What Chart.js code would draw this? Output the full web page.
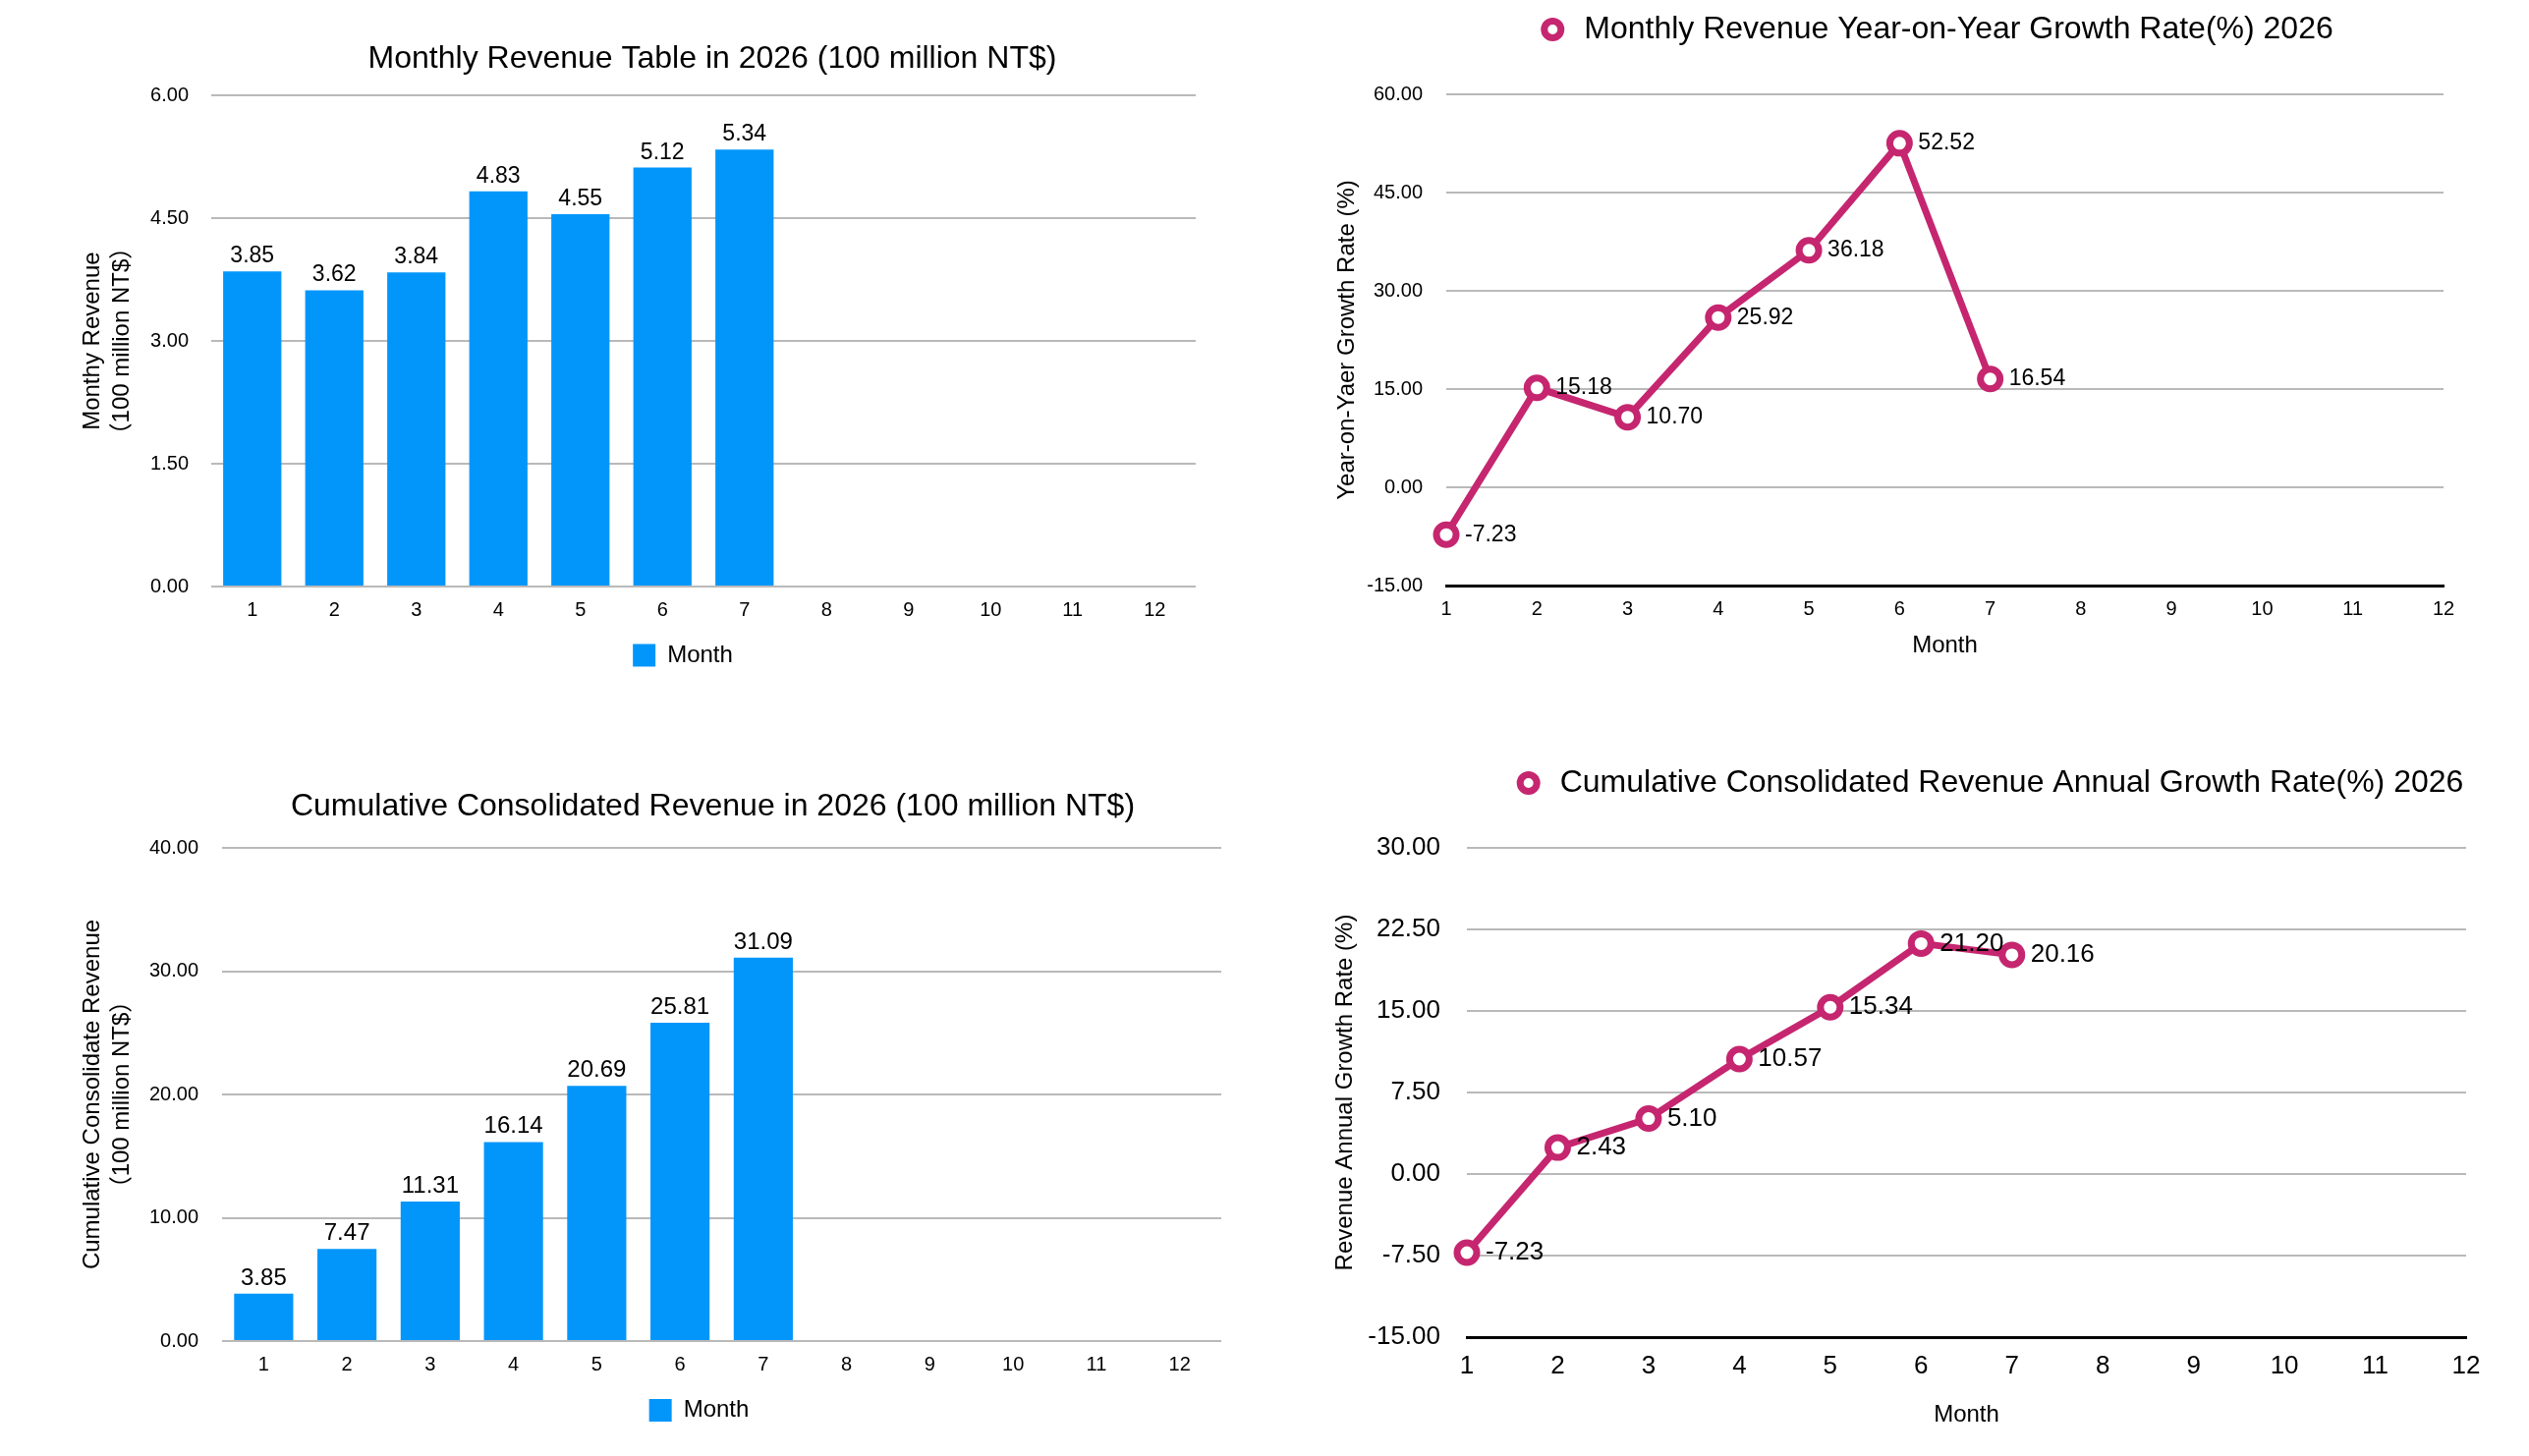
<!DOCTYPE html>
<html lang="en">
<head>
  <meta charset="UTF-8">
  <title>Revenue 2026</title>
  <script src="https://cdn.jsdelivr.net/npm/chart.js"></script>
  <style>
    body { margin: 0; background: #fff; }
    .box { position: absolute; width: 1287px; height: 741px; }
  </style>
</head>
<body>
  <div class="box" style="left:0;top:0"><canvas id="monthly"></canvas></div>
  <div class="box" style="left:1287px;top:0"><canvas id="monthlyYoY"></canvas></div>
  <div class="box" style="left:0;top:741px"><canvas id="cumulative"></canvas></div>
  <div class="box" style="left:1287px;top:741px"><canvas id="cumulativeYoY"></canvas></div>

  <script>
    // data
    const months = ['1', '2', '3', '4', '5', '6', '7', '8', '9', '10', '11', '12'];
    const monthlyRevenue = [3.85, 3.62, 3.84, 4.83, 4.55, 5.12, 5.34];
    const cumulativeRevenue = [3.85, 7.47, 11.31, 16.14, 20.69, 25.81, 31.09];
    const monthlyGrowth = [-7.23, 15.18, 10.70, 25.92, 36.18, 52.52, 16.54];
    const cumulativeGrowth = [-7.23, 2.43, 5.10, 10.57, 15.34, 21.20, 20.16];

    // axis ranges [min, max, step]
    const monthlyRange = [0, 6, 1.5];
    const cumulativeRange = [0, 40, 10];
    const monthlyGrowthRange = [-15, 60, 15];
    const cumulativeGrowthRange = [-15, 30, 7.5];

    const BLUE = '#0396FA';
    const PINK = '#C5266F';
    const GRID = '#b9b9b9';
    const FONT = "'Liberation Sans', Arial, 'Noto Sans CJK SC', sans-serif";

    Chart.defaults.font.family = FONT;
    Chart.defaults.color = '#000';

    // prints each value next to its bar / point
    const valueLabels = {
      id: 'valueLabels',
      afterDatasetsDraw(chart, args, opts) {
        const ctx = chart.ctx;
        chart.data.datasets.forEach((ds, i) => {
          chart.getDatasetMeta(i).data.forEach((el, j) => {
            const v = ds.data[j];
            if (v == null) return;
            ctx.save();
            ctx.font = opts.size + 'px ' + FONT;
            ctx.fillStyle = '#000';
            if (opts.side === 'top') {
              ctx.textAlign = 'center';
              ctx.textBaseline = 'alphabetic';
              ctx.fillText(v.toFixed(2), el.x, el.y - opts.offset);
            } else {
              ctx.textAlign = 'left';
              ctx.textBaseline = 'middle';
              ctx.fillText(v.toFixed(2), el.x + opts.offset, el.y);
            }
            ctx.restore();
          });
        });
      }
    };

    // extra space under a top legend, sideways nudge of legend and title
    const boxTweak = {
      id: 'boxTweak',
      beforeLayout(chart, args, opts) {
        const lg = chart.legend;
        if (!lg || lg._tweaked) return;
        const fit = lg.fit;
        lg.fit = function () { fit.call(this); this.height += opts.gap || 0; };
        lg._tweaked = true;
      },
      afterLayout(chart, args, opts) {
        const shift = (box, dx) => {
          if (!box || !dx) return;
          box.left += dx;
          box.right += dx;
        };
        shift(chart.legend, opts.legendDx);
        shift(chart.titleBlock, opts.titleDx);
      }
    };

    function yTicks(range, size, pad) {
      return {
        min: range[0], max: range[1],
        ticks: { stepSize: range[2], font: { size: size }, padding: pad, callback: v => Number(v).toFixed(2) },
        grid: { color: GRID, lineWidth: 2, drawTicks: false },
        border: { display: false }
      };
    }

    function barChart(id, values, range, s) {
      const y = yTicks(range, 20, s.tickPad);
      y.title = { display: true, text: s.yTitle, font: { size: 24, lineHeight: 1.25 }, padding: { top: 79, bottom: 0 } };
      y.afterFit = scale => { scale.width = s.plotLeft; };
      return new Chart(document.getElementById(id), {
        type: 'bar',
        data: {
          labels: months,
          datasets: [{ label: 'Month', data: values, backgroundColor: BLUE, barPercentage: 0.71, categoryPercentage: 1 }]
        },
        options: {
          animation: false,
          maintainAspectRatio: false,
          layout: { padding: s.padding },
          scales: {
            x: {
              grid: { display: false, drawTicks: false }, border: { display: false },
              ticks: { font: { size: 20 }, padding: 12 },
              afterFit: scale => { scale.height = s.xHeight; }
            },
            y: y
          },
          plugins: {
            title: { display: true, text: s.title, fullSize: false, font: { size: 32, weight: 'normal' }, padding: s.titlePad },
            legend: { position: 'bottom', fullSize: false, labels: { font: { size: 24 }, boxWidth: 23, boxHeight: 23, padding: 10 } },
            boxTweak: { gap: 0, legendDx: s.legendDx, titleDx: s.titleDx },
            tooltip: { enabled: false },
            valueLabels: { size: s.labelSize, offset: 9, side: 'top' }
          }
        },
        plugins: [valueLabels, boxTweak]
      });
    }

    function lineChart(id, values, range, s) {
      const y = yTicks(range, s.tickSize, s.tickPad);
      y.title = { display: true, text: s.yTitle, font: { size: 24, lineHeight: 1.25 }, padding: { top: s.yTitleTop, bottom: 0 } };
      y.afterFit = scale => { scale.width = s.plotLeft; };
      return new Chart(document.getElementById(id), {
        type: 'line',
        data: {
          labels: months,
          datasets: [{
            label: s.title, data: values,
            borderColor: PINK, borderWidth: 7, tension: 0, clip: false,
            pointRadius: 10, pointBorderWidth: 7,
            pointBackgroundColor: '#fff', pointBorderColor: PINK
          }]
        },
        options: {
          animation: false,
          maintainAspectRatio: false,
          layout: { padding: s.padding },
          scales: {
            x: {
              grid: { display: false, drawTicks: false },
              border: { color: '#000', width: 3 },
              ticks: { font: { size: s.tickSize }, padding: s.xTickPad },
              title: { display: true, text: 'Month', font: { size: 24 }, padding: { top: 0, bottom: 10 } },
              afterFit: scale => { scale.height = s.xHeight; }
            },
            y: y
          },
          plugins: {
            legend: {
              position: 'top', fullSize: false,
              labels: { usePointStyle: true, font: { size: 32 }, boxHeight: 12, padding: 10 }
            },
            boxTweak: { gap: 40, legendDx: s.legendDx },
            tooltip: { enabled: false },
            valueLabels: { size: s.labelSize, offset: 19, side: 'right' }
          }
        },
        plugins: [valueLabels, boxTweak]
      });
    }

    barChart('monthly', monthlyRevenue, monthlyRange, {
      title: 'Monthly Revenue Table in 2026 (100 million NT$)',
      yTitle: ['Monthy Revenue', '（100 million NT$）'],
      padding: { left: 0, right: 70, top: 0, bottom: 52 },
      titlePad: { top: 41, bottom: 17.8 },
      plotLeft: 215, tickPad: 23, xHeight: 48, labelSize: 23, legendDx: -21, titleDx: 9
    });

    lineChart('monthlyYoY', monthlyGrowth, monthlyGrowthRange, {
      title: 'Monthly Revenue Year-on-Year Growth Rate(%) 2026',
      yTitle: 'Year-on-Yaer Growth Rate (%)',
      padding: { left: 0, right: 87, top: 4, bottom: 59.6 },
      plotLeft: 185, yTitleTop: 69, tickSize: 20, tickPad: 24,
      xTickPad: 12, xHeight: 85.4, labelSize: 23, legendDx: -10
    });

    barChart('cumulative', cumulativeRevenue, cumulativeRange, {
      title: 'Cumulative Consolidated Revenue in 2026 (100 million NT$)',
      yTitle: ['Cumulative Consolidate Revenue', '（100 million NT$）'],
      padding: { left: 0, right: 44, top: 0, bottom: 24.5 },
      titlePad: { top: 60.8, bottom: 22.8 },
      plotLeft: 226, tickPad: 24, xHeight: 48.5, labelSize: 24, legendDx: -23, titleDx: -9
    });

    lineChart('cumulativeYoY', cumulativeGrowth, cumulativeGrowthRange, {
      title: 'Cumulative Consolidated Revenue Annual Growth Rate(%) 2026',
      yTitle: 'Revenue Annual Growth Rate (%)',
      padding: { left: 0, right: 64, top: 30, bottom: 17.1 },
      plotLeft: 206, yTitleTop: 67.5, tickSize: 26, tickPad: 27,
      xTickPad: 14, xHeight: 103.9, labelSize: 26, legendDx: 22
    });
  </script>
</body>
</html>
